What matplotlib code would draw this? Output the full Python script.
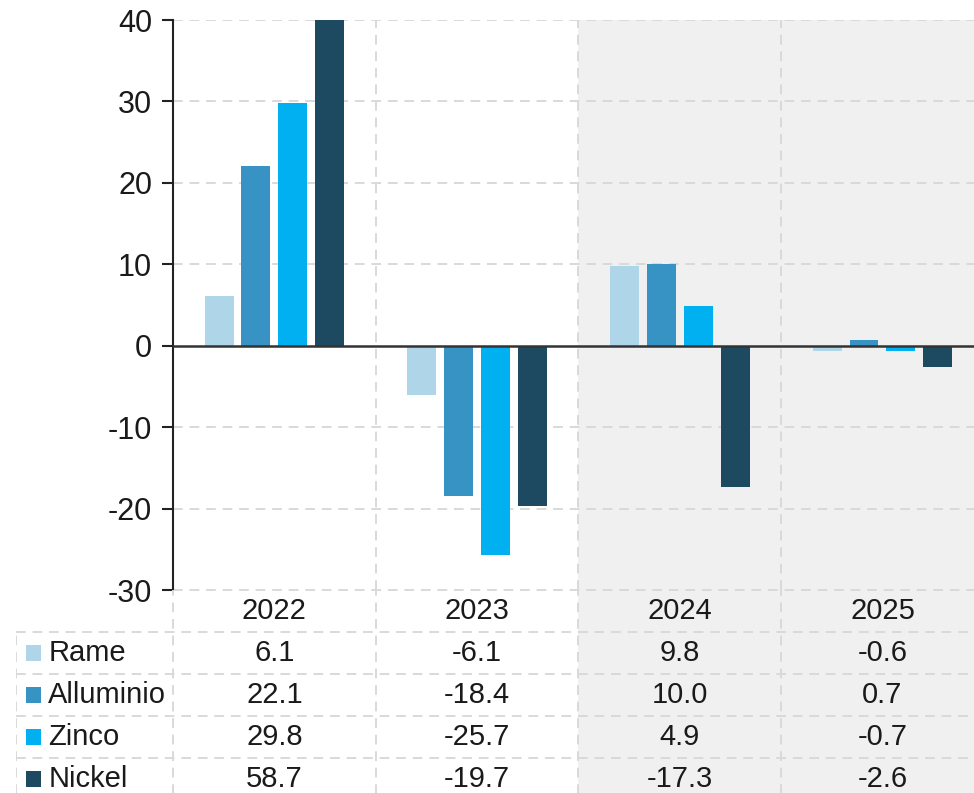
import numpy as np
import matplotlib.pyplot as plt
from matplotlib.patches import Rectangle

plt.rcParams['font.family'] = ['Liberation Sans', 'DejaVu Sans']
plt.rcParams['axes.unicode_minus'] = False

years = ['2022', '2023', '2024', '2025']
metals = ['Rame', 'Alluminio', 'Zinco', 'Nickel']
rame = [6.1, -6.1, 9.8, -0.6]
alluminio = [22.1, -18.4, 10.0, 0.7]
zinco = [29.8, -25.7, 4.9, -0.7]
nickel = [58.7, -19.7, -17.3, -2.6]
colors = ['#afd5e8', '#3793c3', '#00b0f0', '#1e4a61']

series = [rame, alluminio, zinco, nickel]
grid_col = '#d9d9d9'
shade_col = '#f0f0f0'
txt_col = '#1a1a1a'
dash = (0, (5, 3.5))

fig = plt.figure(figsize=(9.74, 7.93), dpi=100)
W, H = 974, 793
cw = 202.7                      # pixel width of one year column
xmax = (W - 173) / cw           # last column is cut by the figure edge

# main bar chart
ax = fig.add_axes([173 / W, 1 - 590 / H, (W - 173) / W, (590 - 20) / H])
x = np.arange(len(years)) + 0.5
ax.set_xlim(0, xmax)
ax.set_ylim(-30, 40)
ax.axvspan(2, 4, color=shade_col, zorder=0, lw=0)

bw = 0.143
step = 0.182
for i, (vals, c) in enumerate(zip(series, colors)):
    ax.bar(x + (i - 1.5) * step, vals, width=bw, color=c, zorder=3)

ax.axhline(0, color='#333333', lw=1.8, zorder=4)
for yv in range(-30, 41, 10):
    if yv != 0:
        ax.axhline(yv, color=grid_col, lw=1.4, ls=dash, zorder=1)
for xv in [1, 2, 3]:
    ax.axvline(xv, color=grid_col, lw=1.4, ls=dash, zorder=1)

ax.set_yticks(range(-30, 41, 10))
ax.set_xticks([])
ax.tick_params(axis='y', length=8, width=1.5, color='#222222', labelsize=22,
               labelcolor=txt_col, pad=7)
for s in ['top', 'right', 'bottom']:
    ax.spines[s].set_visible(False)
ax.spines['left'].set_linewidth(1.5)
ax.spines['left'].set_color('#222222')

# data table below the chart, rows 42 px high
tx0 = 16
lab_w = (173 - tx0) / cw
ta = fig.add_axes([tx0 / W, 0, (W - tx0) / W, (H - 590) / H])
ta.set_xlim(-lab_w, xmax)
ta.set_ylim(5 - (H - 590) / 42, 5)
ta.axis('off')
ta.add_patch(Rectangle((2, -1), 2, 6, color=shade_col, lw=0, zorder=0))

# header row
for j, yr in enumerate(years):
    ta.text(j + 0.5, 4.5, yr, ha='center', va='center', fontsize=21, color=txt_col)

for r, (name, vals, c) in enumerate(zip(metals, series, colors)):
    yc = 3.5 - r
    ta.add_patch(Rectangle((-lab_w + 0.05, yc - 0.18), 0.074, 0.36, color=c, lw=0))
    ta.text(-lab_w + 0.16, yc, name, ha='left', va='center', fontsize=21, color=txt_col)
    for j, v in enumerate(vals):
        ta.text(j + 0.5, yc, f'{v:.1f}', ha='center', va='center', fontsize=21,
                color=txt_col)

# table grid lines
ta.plot([0, 4], [5, 5], color=grid_col, lw=1.4, ls=dash)
for yv in [4, 3, 2, 1]:
    ta.plot([-lab_w, 4], [yv, yv], color=grid_col, lw=1.4, ls=dash)
ta.plot([-lab_w, -lab_w], [-1, 4], color=grid_col, lw=1.4, ls=dash)
for xv in [0, 1, 2, 3]:
    ta.plot([xv, xv], [-1, 5], color=grid_col, lw=1.4, ls=dash)

fig.savefig('out.png', dpi=100)
